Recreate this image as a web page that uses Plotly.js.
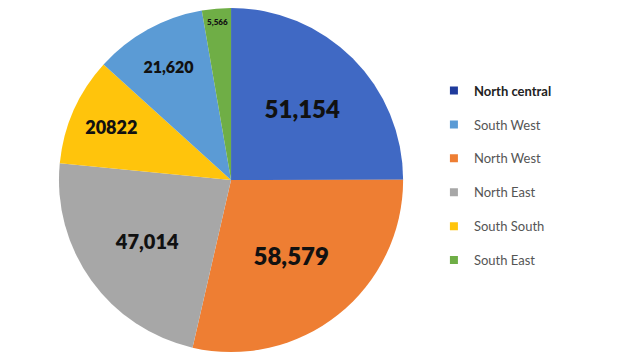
<!DOCTYPE html>
<html>
<head>
<meta charset="utf-8">
<script src="https://cdn.plot.ly/plotly-3.0.1.min.js"></script>
<style>html,body{margin:0;padding:0;background:#fff;}#chart{width:640px;height:360px;}</style>
</head>
<body>
<div id="chart"></div>
<script>
// Slice order (clockwise from 12 o'clock)
const regions = ["North central", "North West", "North East", "South South", "South West", "South East"];
const values = [51154, 58579, 47014, 20822, 21620, 5566];
const valueLabels = ["51,154", "58,579", "47,014", "20822", "21,620", "5,566"];
const colors = ["#4069C4", "#EE7E33", "#A7A7A7", "#FFC40C", "#5B9BD5", "#6FAE46"];
const labelSizes = [24, 24, 20, 18, 16, 8];
// Legend order as shown in the chart
const legendOrder = ["North central", "South West", "North West", "North East", "South South", "South East"];
const legendColors = {"North central": "#1F3B9C"};

const pie = {
  type: "pie",
  labels: regions,
  values: values,
  text: valueLabels,
  textinfo: "text",
  textposition: "inside",
  insidetextorientation: "horizontal",
  textfont: {family: "Lato, Arial, sans-serif", size: labelSizes, color: "#111", weight: 800},
  marker: {colors: colors, line: {width: 0}},
  sort: false,
  direction: "clockwise",
  rotation: 0,
  showlegend: false,
  hoverinfo: "label+value",
  domain: {x: [0.092, 0.63], y: [0.022, 0.978]}
};

const legendTraces = legendOrder.map((name, i) => {
  const idx = regions.indexOf(name);
  const col = legendColors[name] || colors[idx];
  const isFirst = i === 0;
  return {
    type: "scatter",
    mode: "markers",
    x: [null], y: [null],
    name: isFirst ? '<span style="color:#222;font-weight:bold">' + name + '</span>' : name,
    legendgroup: "g" + i,
    marker: {symbol: "square", size: 8, color: col},
    hoverinfo: "skip"
  };
});

const layout = {
  width: 640, height: 360,
  margin: {l: 0, r: 0, t: 0, b: 0},
  paper_bgcolor: "#ffffff",
  plot_bgcolor: "#ffffff",
  xaxis: {visible: false, domain: [0.99, 1]},
  yaxis: {visible: false, domain: [0.99, 1]},
  showlegend: true,
  legend: {
    x: 0.678, y: 0.79, xanchor: "left", yanchor: "top",
    traceorder: "grouped",
    tracegroupgap: 14,
    itemwidth: 30,
    font: {family: "Lato, 'Open Sans', Arial, sans-serif", size: 13, color: "#555"},
    bgcolor: "rgba(0,0,0,0)"
  }
};

Plotly.newPlot("chart", [pie].concat(legendTraces), layout, {displayModeBar: false, staticPlot: true});
</script>
</body>
</html>
